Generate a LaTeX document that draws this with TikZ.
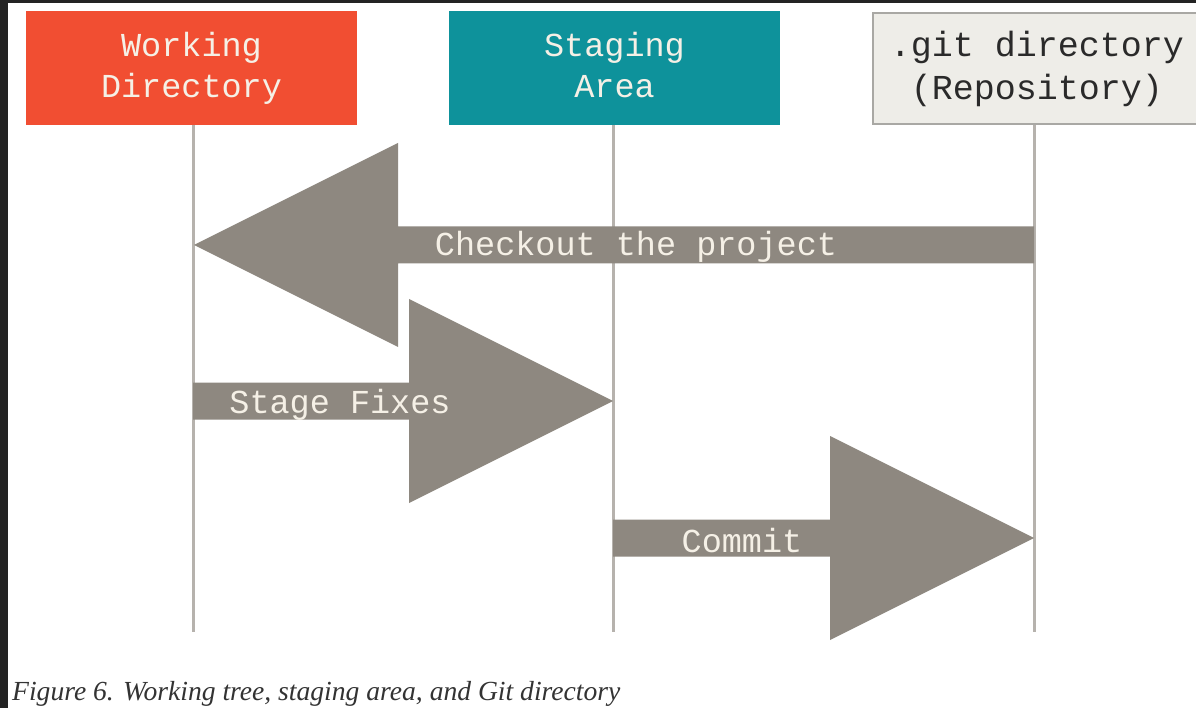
\documentclass[tikz,border=0pt]{standalone}
\usepackage{fontspec}
\setmainfont{Liberation Serif}
\newfontfamily\codefont{Liberation Mono}
\usetikzlibrary{calc}

\definecolor{wdorange}{HTML}{F14E32}
\definecolor{sateal}{HTML}{0E929B}
\definecolor{gitfill}{HTML}{EEEDE8}
\definecolor{gitedge}{HTML}{A9A8A4}
\definecolor{flowgray}{HTML}{8E8880}
\definecolor{lifegray}{HTML}{B6B2AD}
\definecolor{boxtext}{HTML}{F5F0E6}
\definecolor{gittext}{HTML}{2A2A2A}
\definecolor{frame}{HTML}{232323}
\definecolor{captext}{HTML}{333333}

% fat arrow from a tail point to a tip point, with a wide triangular head
\newcommand\fatarrow[2]{%
  \fill[flow] let \p1=(#1), \p2=(#2), \n1={ifthenelse(\x2>\x1,204pt,-204pt)} in
    (\x1,\y1+18.5pt) -- (\x2-\n1,\y1+18.5pt) -- (\x2-\n1,\y1+102pt)
    -- (\x2,\y2) -- (\x2-\n1,\y1-102pt) -- (\x2-\n1,\y1-18.5pt)
    -- (\x1,\y1-18.5pt) -- cycle;}

\begin{document}
\begin{tikzpicture}[x=1pt,y=-1pt,
  area/.style={rectangle, inner sep=0pt, minimum width=331pt, minimum height=114pt,
    align=center, font=\codefont\fontsize{33.5}{41}\selectfont},
  life/.style={draw=lifegray, line width=3pt},
  flow/.style={fill=flowgray},
  flowtext/.style={anchor=base, text=boxtext, inner sep=0pt,
    font=\codefont\fontsize{33.5}{41}\selectfont}]

\useasboundingbox (0,0) rectangle (1196,708);
\clip (0,0) rectangle (1196,708);
\fill[white] (0,0) rectangle (1196,708);
\fill[frame] (0,0) rectangle (1196,3);
\fill[frame] (0,0) rectangle (8,708);

% the three areas
\node[area, fill=wdorange, text=boxtext] (wd) at (191.5,68) {Working\\Directory};
\node[area, fill=sateal, text=boxtext] (sa) at (614.5,68) {Staging\\Area\vphantom{y}};
\node[area, fill=gitfill, draw=gitedge, line width=2pt, text=gittext,
  minimum width=328pt, minimum height=111pt,
  font=\codefont\fontsize{35}{43}\selectfont] (git) at (1037,69) {.git directory\\(Repository)};

% lifelines
\coordinate (wd-end) at (193,632);
\coordinate (sa-end) at (613,632);
\coordinate (git-end) at (1034,632);
\draw[life] (wd.south -| wd-end) -- (wd-end);
\draw[life] (sa.south -| sa-end) -- (sa-end);
\draw[life] (git.south -| git-end) -- (git-end);

% transfers between the areas
\coordinate (co-tail) at (1034,245);
\coordinate (co-tip) at (194,245);
\coordinate (sf-tail) at (193,401);
\coordinate (sf-tip) at (613,401);
\coordinate (cm-tail) at (613,538);
\coordinate (cm-tip) at (1034,538);

\fatarrow{co-tail}{co-tip}
\fatarrow{sf-tail}{sf-tip}
\fatarrow{cm-tail}{cm-tip}

\node[flowtext] (co-label) at (636,256) {Checkout the project};
\node[flowtext] (sf-label) at (340,413) {Stage Fixes};
\node[flowtext] (cm-label) at (742,552) {Commit};

% caption
\node[anchor=base west, inner sep=0pt, text=captext,
  font=\itshape\fontsize{27.6}{32}\selectfont] (caption) at (12,700)
  {Figure 6. Working tree, staging area, and Git directory};
\end{tikzpicture}
\end{document}
